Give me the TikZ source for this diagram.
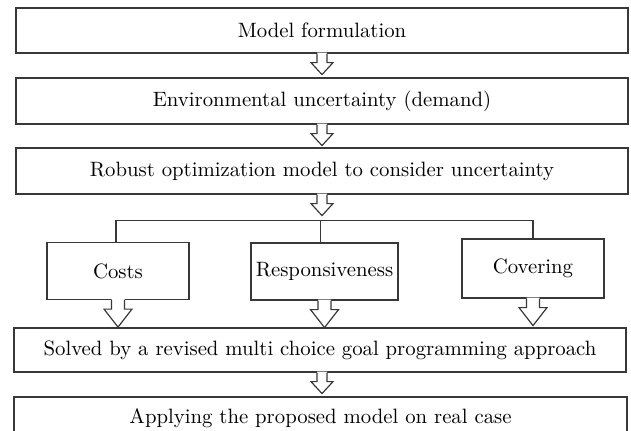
\documentclass[tikz,border=0pt]{standalone}
\usetikzlibrary{calc}

% hollow block arrow hanging below an anchor:
% #1 start anchor, #2 half shaft width, #3 half head width, #4 shaft length, #5 head length
\newcommand{\blockarrow}[5]{%
  \fill[white] ($(#1)+(-#2,-1)$) -- ++(0,#4+1) -- ++(#2-#3,0) -- ++(#3,#5)
    -- ++(#3,-#5) -- ++(#2-#3,0) -- ++(0,-#4-1) -- cycle;
  \draw[conn] ($(#1)+(-#2,0)$) -- ++(0,#4) -- ++(#2-#3,0) -- ++(#3,#5)
    -- ++(#3,-#5) -- ++(#2-#3,0) -- ++(0,-#4);
}

\begin{document}
\begin{tikzpicture}[x=0.4625pt, y=-0.4625pt,
  conn/.style={draw=black!78, line width=0.55pt, line join=miter},
  frame/.style={draw=black!78, line width=0.55pt, rectangle, inner sep=0pt,
    fill=white, align=center, font=\fontsize{9.6}{11}\selectfont},
  mainbox/.style={frame, minimum width=612*0.4625pt, minimum height=#1*0.4625pt},
  subbox/.style 2 args={frame, minimum width=#1*0.4625pt, minimum height=#2*0.4625pt}]

\useasboundingbox (0,0) rectangle (631,430);
\clip (0,0) rectangle (631,430);

% main chain
\node[mainbox=45] (model)  at (322,30.5) {Model formulation};
\node[mainbox=46] (env)    at (322,101)  {Environmental uncertainty (demand)};
\node[mainbox=46] (robust) at (322,171)  {Robust optimization model to consider uncertainty};

% the three objectives
\node[subbox={142}{57}] (cost)  at (118,271)     {Costs};
\node[subbox={147}{57}] (resp)  at (324.5,271.5) {Responsiveness};
\node[subbox={142}{59}] (cover) at (533,268.5)   {Covering};

% solution and application
\node[mainbox=44] (solve) at (320,350) {Solved by a revised multi choice goal programming approach};
\node[frame, minimum width=613*0.4625pt, minimum height=42*0.4625pt] (apply) at (320.5,418)
  {Applying the proposed model on real case};

% branching line to the objectives
\coordinate (split) at ($(robust.south)+(0,26)$);
\draw[conn] ([xshift=-2*0.4625pt]cost.north) |- (cover.north |- split) -- (cover.north);
\draw[conn] ([xshift=-4*0.4625pt]resp.north) -- ([xshift=-4*0.4625pt]resp.north |- split);

% block arrows
\coordinate (solveout) at ($(solve.south)+(2,0)$);
\blockarrow{model.south}{5}{11}{9}{12}
\blockarrow{env.south}{5}{11}{9}{12}
\blockarrow{robust.south}{5}{11}{9}{12}
\blockarrow{cost.south}{6.5}{14}{9}{18}
\blockarrow{resp.south}{6.5}{14}{9}{18}
\blockarrow{cover.south}{6.5}{14}{9}{18}
\blockarrow{solveout}{5}{11}{9}{12}

\end{tikzpicture}
\end{document}
